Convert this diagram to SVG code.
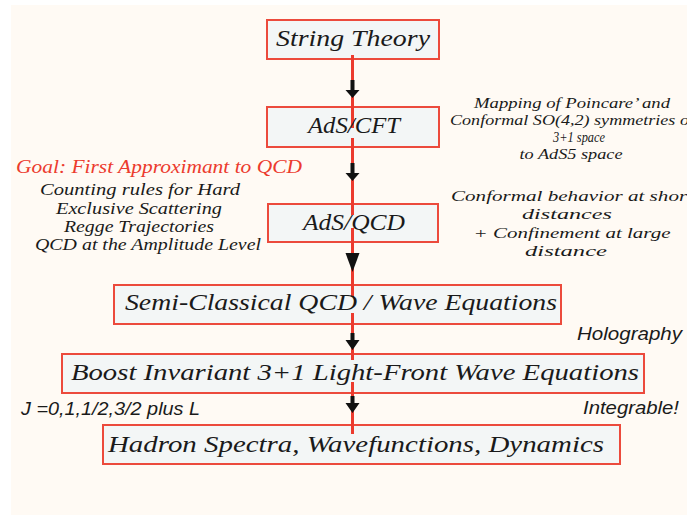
<svg xmlns="http://www.w3.org/2000/svg" width="687" height="515" viewBox="0 0 687 515">
<style>
.box{fill:#f3f6f6;stroke:#ec4a3c;stroke-width:2}
.hw{font-family:"Liberation Serif","DejaVu Serif",serif;font-style:italic;fill:#1a1a1a}
.bt{font-size:23px;text-anchor:middle}
.lt{font-size:17px;text-anchor:middle}
.rt{font-size:15px;text-anchor:middle}
.ar{font-family:"Liberation Sans",Arial,sans-serif;font-style:italic;font-size:18px;fill:#1a1a1a}
.red{stroke:#ec3b2e;stroke-width:3;fill:none}
.blk{fill:#111}
</style>
<rect x="0" y="0" width="687" height="515" fill="#ffffff"/>
<rect x="11" y="5" width="676" height="510" fill="#fffaf4"/>

<g id="connectors">
<line class="red" x1="352.5" y1="55" x2="352.5" y2="128"/>
<line class="red" x1="352.5" y1="138" x2="352.5" y2="215"/>
<line class="red" x1="352.5" y1="228" x2="352.5" y2="297"/>
<line class="red" x1="352.5" y1="313" x2="352.5" y2="360"/>
<line class="red" x1="352.5" y1="382" x2="352.5" y2="434"/>
<path class="blk" d="M350.5,80 h4 v10 h5 l-7,8 l-7,-8 h5 z"/>
<path class="blk" d="M350.5,163 h4 v10 h5 l-7,8 l-7,-8 h5 z"/>
<path class="blk" d="M345.5,253 h14 l-7,19 z"/>
<path class="blk" d="M350.5,333 h4 v7 h5 l-7,10 l-7,-10 h5 z"/>
<path class="blk" d="M350.5,396 h4 v7 h5 l-7,10 l-7,-10 h5 z"/>
</g>

<g id="string-theory">
<rect class="box" x="267" y="20" width="172" height="39"/>
<text class="hw bt" x="353" y="46" textLength="154" lengthAdjust="spacingAndGlyphs">String Theory</text>
</g>
<line class="red" x1="352.5" y1="55" x2="352.5" y2="60"/>

<g id="ads-cft">
<rect class="box" x="267" y="107" width="172" height="40"/>
<line class="red" x1="352.5" y1="106" x2="352.5" y2="128"/>
<line class="red" x1="352.5" y1="138" x2="352.5" y2="148"/>
<text class="hw bt" x="354" y="133" textLength="92" lengthAdjust="spacingAndGlyphs">AdS/CFT</text>
</g>

<g id="ads-qcd">
<rect class="box" x="268" y="204" width="170" height="38"/>
<line class="red" x1="352.5" y1="203" x2="352.5" y2="215"/>
<line class="red" x1="352.5" y1="228" x2="352.5" y2="243"/>
<text class="hw bt" x="354" y="230" textLength="102" lengthAdjust="spacingAndGlyphs">AdS/QCD</text>
</g>

<g id="semi-classical">
<rect class="box" x="114" y="285" width="447" height="39"/>
<line class="red" x1="352.5" y1="284" x2="352.5" y2="297"/>
<line class="red" x1="352.5" y1="313" x2="352.5" y2="325"/>
<text class="hw bt" x="341" y="310" textLength="432" lengthAdjust="spacingAndGlyphs">Semi-Classical QCD / Wave Equations</text>
</g>

<g id="boost-invariant">
<rect class="box" x="62" y="354" width="582" height="39"/>
<line class="red" x1="352.5" y1="353" x2="352.5" y2="360"/>
<line class="red" x1="352.5" y1="382" x2="352.5" y2="394"/>
<text class="hw bt" x="355" y="380" textLength="568" lengthAdjust="spacingAndGlyphs">Boost Invariant 3+1 Light-Front Wave Equations</text>
</g>

<g id="hadron-spectra">
<rect class="box" x="103" y="425" width="517" height="39"/>
<line class="red" x1="352.5" y1="424" x2="352.5" y2="434"/>
<text class="hw bt" x="356" y="452" textLength="496" lengthAdjust="spacingAndGlyphs">Hadron Spectra, Wavefunctions, Dynamics</text>
</g>

<g id="left-notes">
<text class="hw" x="16" y="173" font-size="18" fill="#ec3b2e" style="fill:#ec3b2e" textLength="286" lengthAdjust="spacingAndGlyphs">Goal: First Approximant to QCD</text>
<text class="hw lt" x="140" y="195" textLength="200" lengthAdjust="spacingAndGlyphs">Counting rules for Hard</text>
<text class="hw lt" x="139" y="214" textLength="166" lengthAdjust="spacingAndGlyphs">Exclusive Scattering</text>
<text class="hw lt" x="139" y="232" textLength="150" lengthAdjust="spacingAndGlyphs">Regge Trajectories</text>
<text class="hw lt" x="148" y="250" textLength="226" lengthAdjust="spacingAndGlyphs">QCD at the Amplitude Level</text>
</g>

<g id="right-notes">
<text class="hw rt" x="572" y="108" textLength="196" lengthAdjust="spacingAndGlyphs">Mapping of Poincare’ and</text>
<text class="hw rt" x="572" y="125" textLength="244" lengthAdjust="spacingAndGlyphs">Conformal SO(4,2) symmetries of</text>
<text class="hw rt" x="579" y="142" textLength="52" lengthAdjust="spacingAndGlyphs">3+1 space</text>
<text class="hw rt" x="571" y="159" textLength="103" lengthAdjust="spacingAndGlyphs">to AdS5 space</text>
<text class="hw rt" x="572" y="201" textLength="242" lengthAdjust="spacingAndGlyphs">Conformal behavior at short</text>
<text class="hw rt" x="567" y="219" textLength="90" lengthAdjust="spacingAndGlyphs">distances</text>
<text class="hw rt" x="572" y="238" textLength="197" lengthAdjust="spacingAndGlyphs">+ Confinement at large</text>
<text class="hw rt" x="566" y="256" textLength="82" lengthAdjust="spacingAndGlyphs">distance</text>
</g>

<g id="side-labels">
<text class="ar" x="577" y="340" textLength="105" lengthAdjust="spacingAndGlyphs">Holography</text>
<text class="ar" x="583" y="414" textLength="96" lengthAdjust="spacingAndGlyphs">Integrable!</text>
<text class="ar" x="21" y="415" textLength="179" lengthAdjust="spacingAndGlyphs">J =0,1,1/2,3/2 plus L</text>
</g>
</svg>
